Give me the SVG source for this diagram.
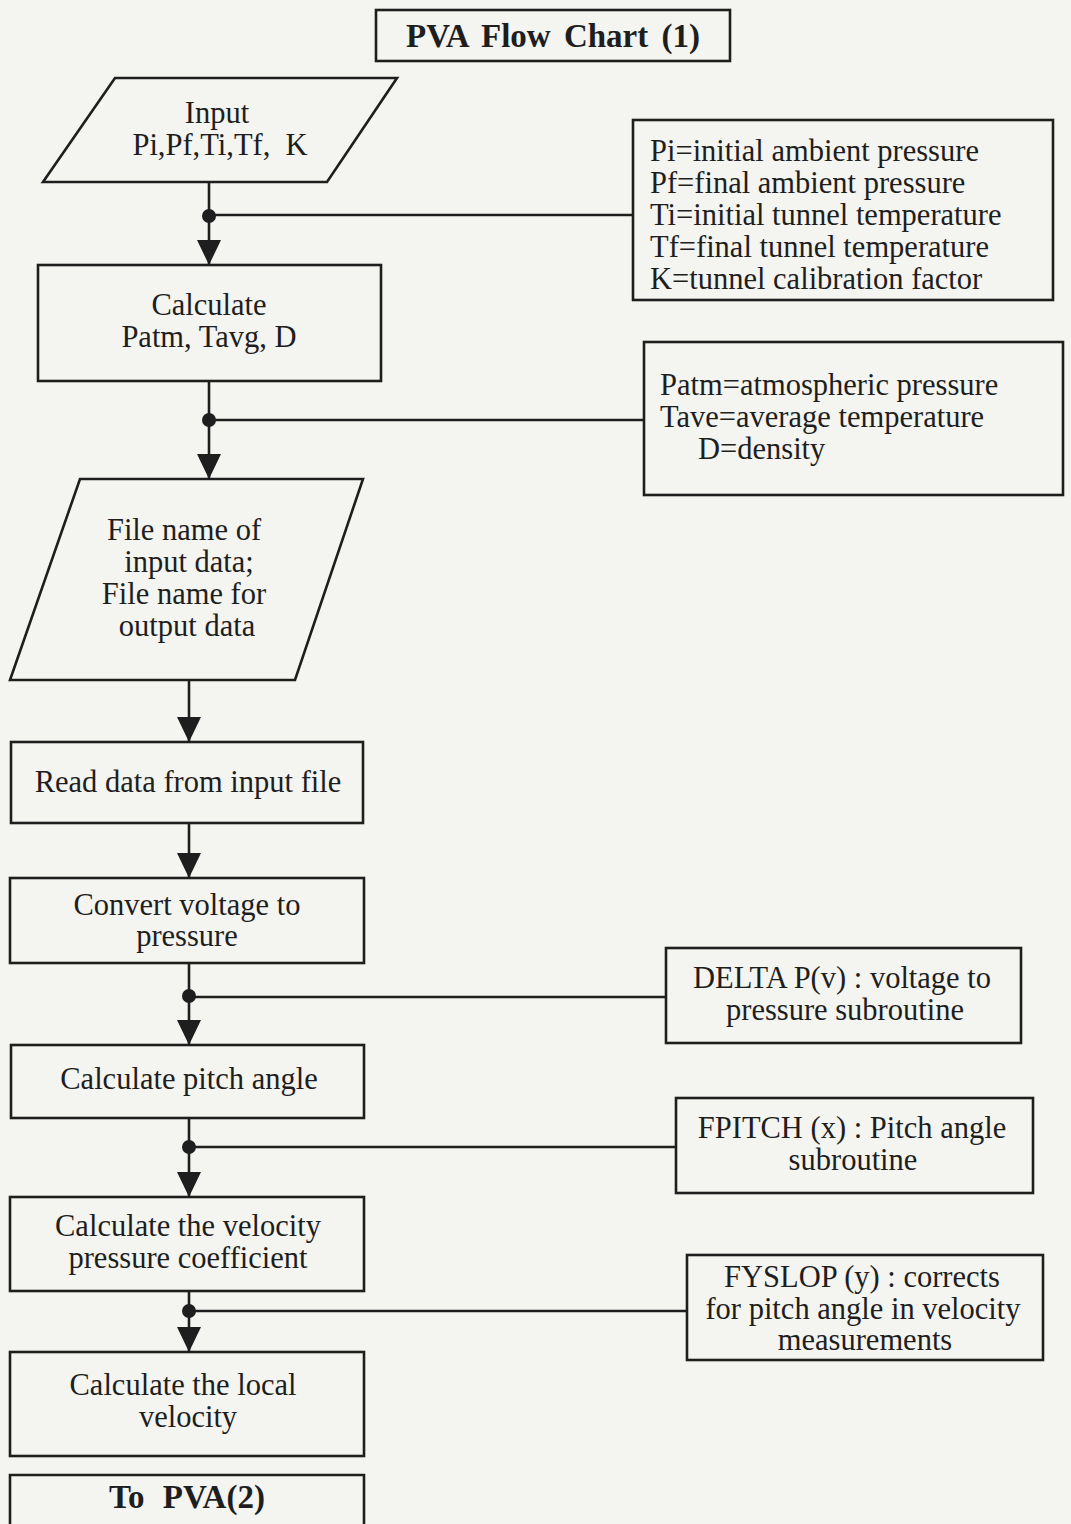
<svg xmlns="http://www.w3.org/2000/svg" width="1071" height="1524" viewBox="0 0 1071 1524">
<style>
.bg{fill:#f4f4f0}
.shape{fill:none;stroke:#1e1e1e;stroke-width:2.6}
.conn{fill:none;stroke:#1e1e1e;stroke-width:2.6}
.dot{fill:#1e1e1e}
text{font-family:"Liberation Serif","Times New Roman",serif;font-size:30.5px;fill:#1e1e1e}
.c{text-anchor:middle}
.b{font-weight:bold;font-size:33px}
</style>
<defs>
<marker id="arr" markerUnits="userSpaceOnUse" markerWidth="26" markerHeight="26" refX="25" refY="12" orient="auto">
<path d="M0,0 L25,12 L0,24 z" fill="#1e1e1e"/>
</marker>
</defs>
<rect class="bg" x="0" y="0" width="1071" height="1524"/>

<g id="title">
<rect class="shape" x="376" y="10" width="354" height="51"/>
<text class="c b" x="553" y="47" word-spacing="5">PVA Flow Chart (1)</text>
</g>

<g id="input">
<polygon class="shape" points="115,78 397,78 327,182 43,182"/>
<text class="c" x="217" y="123">Input</text>
<text class="c" x="220" y="155" xml:space="preserve">Pi,Pf,Ti,Tf,  K</text>
</g>

<g id="legend1">
<rect class="shape" x="633" y="120" width="420" height="180"/>
<text x="650" y="161">Pi=initial ambient pressure</text>
<text x="650" y="193">Pf=final ambient pressure</text>
<text x="650" y="225">Ti=initial tunnel temperature</text>
<text x="650" y="257">Tf=final tunnel temperature</text>
<text x="650" y="289">K=tunnel calibration factor</text>
</g>

<g id="calculate">
<rect class="shape" x="38" y="265" width="343" height="116"/>
<text class="c" x="209" y="315">Calculate</text>
<text class="c" x="209" y="347">Patm, Tavg, D</text>
</g>

<g id="legend2">
<rect class="shape" x="644" y="342" width="419" height="153"/>
<text x="660" y="395">Patm=atmospheric pressure</text>
<text x="660" y="427">Tave=average temperature</text>
<text x="698" y="459">D=density</text>
</g>

<g id="filenames">
<polygon class="shape" points="80,479 363,479 295,680 10,680"/>
<text class="c" x="184" y="540">File name of</text>
<text class="c" x="189" y="572">input data;</text>
<text class="c" x="184" y="604">File name for</text>
<text class="c" x="187" y="636">output data</text>
</g>

<g id="read">
<rect class="shape" x="11" y="742" width="352" height="81"/>
<text class="c" x="188" y="792">Read data from input file</text>
</g>

<g id="convert">
<rect class="shape" x="10" y="878" width="354" height="85"/>
<text class="c" x="187" y="915">Convert voltage to</text>
<text class="c" x="187" y="946">pressure</text>
</g>

<g id="legend3">
<rect class="shape" x="666" y="948" width="355" height="95"/>
<text class="c" x="842" y="988">DELTA P(v) : voltage to</text>
<text class="c" x="845" y="1020">pressure subroutine</text>
</g>

<g id="pitch">
<rect class="shape" x="11" y="1045" width="353" height="73"/>
<text class="c" x="189" y="1089">Calculate pitch angle</text>
</g>

<g id="legend4">
<rect class="shape" x="676" y="1098" width="357" height="95"/>
<text class="c" x="852" y="1138">FPITCH (x) : Pitch angle</text>
<text class="c" x="853" y="1170">subroutine</text>
</g>

<g id="coefficient">
<rect class="shape" x="10" y="1197" width="354" height="94"/>
<text class="c" x="188" y="1236">Calculate the velocity</text>
<text class="c" x="188" y="1268">pressure coefficient</text>
</g>

<g id="legend5">
<rect class="shape" x="687" y="1255" width="356" height="105"/>
<text class="c" x="862" y="1287">FYSLOP (y) : corrects</text>
<text class="c" x="863" y="1319">for pitch angle in velocity</text>
<text class="c" x="865" y="1350">measurements</text>
</g>

<g id="local">
<rect class="shape" x="10" y="1352" width="354" height="104"/>
<text class="c" x="183" y="1395">Calculate the local</text>
<text class="c" x="188" y="1427">velocity</text>
</g>

<g id="topva2">
<path class="shape" d="M10,1530 L10,1475 L364,1475 L364,1530"/>
<text class="c b" x="187" y="1508" word-spacing="10">To PVA(2)</text>
</g>

<g id="connectors">
<line class="conn" x1="209" y1="182" x2="209" y2="265" marker-end="url(#arr)"/>
<line class="conn" x1="209" y1="215" x2="633" y2="215"/>
<circle class="dot" cx="209" cy="216" r="7"/>

<line class="conn" x1="209" y1="381" x2="209" y2="479" marker-end="url(#arr)"/>
<line class="conn" x1="209" y1="420" x2="644" y2="420"/>
<circle class="dot" cx="209" cy="420" r="7"/>

<line class="conn" x1="189" y1="680" x2="189" y2="742" marker-end="url(#arr)"/>
<line class="conn" x1="189" y1="823" x2="189" y2="878" marker-end="url(#arr)"/>

<line class="conn" x1="189" y1="963" x2="189" y2="1045" marker-end="url(#arr)"/>
<line class="conn" x1="189" y1="997" x2="666" y2="997"/>
<circle class="dot" cx="189" cy="996" r="7"/>

<line class="conn" x1="189" y1="1118" x2="189" y2="1197" marker-end="url(#arr)"/>
<line class="conn" x1="189" y1="1147" x2="676" y2="1147"/>
<circle class="dot" cx="189" cy="1147" r="7"/>

<line class="conn" x1="189" y1="1291" x2="189" y2="1352" marker-end="url(#arr)"/>
<line class="conn" x1="189" y1="1311" x2="687" y2="1311"/>
<circle class="dot" cx="189" cy="1311" r="7"/>
</g>
</svg>
